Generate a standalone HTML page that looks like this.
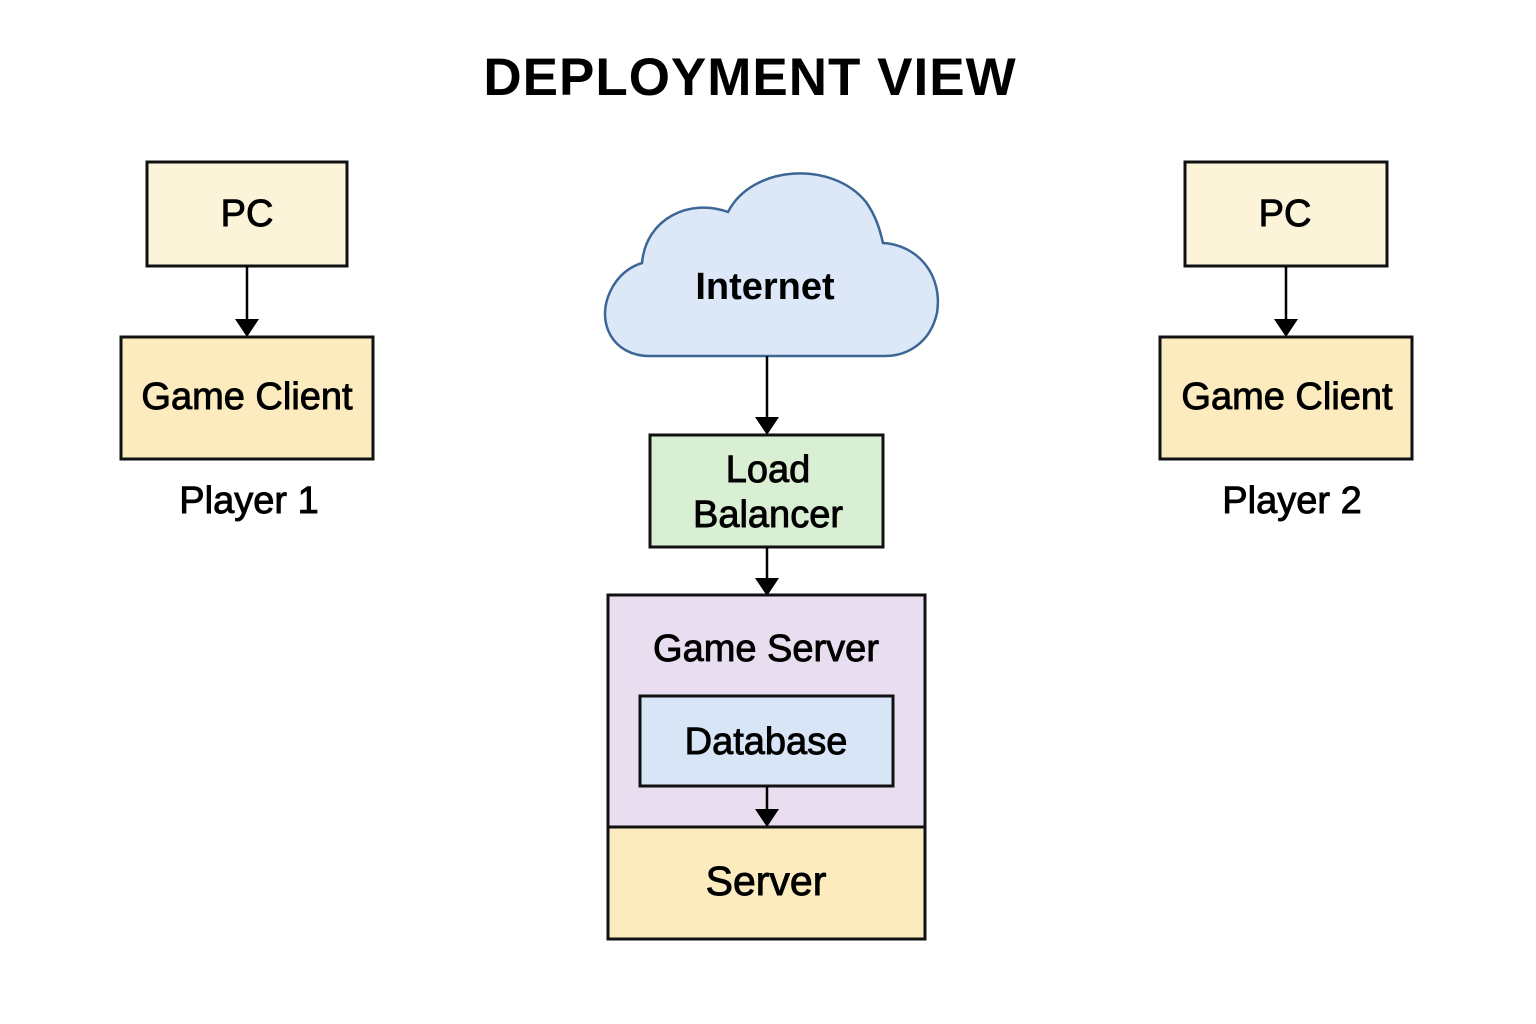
<!DOCTYPE html>
<html><head><meta charset="utf-8"><style>
html,body{margin:0;padding:0;background:#fff;}
svg{display:block;}
text{font-family:"Liberation Sans",sans-serif;fill:#000;}
.l{stroke:#000;stroke-width:0.9;}
</style></head><body>
<svg width="1536" height="1024" viewBox="0 0 1536 1024" xmlns="http://www.w3.org/2000/svg">
<text x="750" y="95" text-anchor="middle" font-size="53" font-weight="bold" letter-spacing="1">DEPLOYMENT VIEW</text>

<!-- Left -->
<rect x="147" y="162" width="200" height="104" fill="#fbf4d9" stroke="#111" stroke-width="3"/>
<text class="l" x="247" y="226" text-anchor="middle" font-size="38">PC</text>
<line x1="247" y1="266" x2="247" y2="322" stroke="#000" stroke-width="2.5"/>
<path d="M235,319 L259,319 L247,337 Z" fill="#000"/>
<rect x="121" y="337" width="252" height="122" fill="#fbebbf" stroke="#111" stroke-width="3"/>
<text class="l" x="247" y="409" text-anchor="middle" font-size="38">Game Client</text>
<text class="l" x="249" y="513" text-anchor="middle" font-size="38">Player 1</text>

<!-- Right -->
<rect x="1185" y="162" width="202" height="104" fill="#fbf4d9" stroke="#111" stroke-width="3"/>
<text class="l" x="1285" y="226" text-anchor="middle" font-size="38">PC</text>
<line x1="1286" y1="266" x2="1286" y2="322" stroke="#000" stroke-width="2.5"/>
<path d="M1274,319 L1298,319 L1286,337 Z" fill="#000"/>
<rect x="1160" y="337" width="252" height="122" fill="#fbebbf" stroke="#111" stroke-width="3"/>
<text class="l" x="1287" y="409" text-anchor="middle" font-size="38">Game Client</text>
<text class="l" x="1292" y="513" text-anchor="middle" font-size="38">Player 2</text>

<!-- Cloud -->
<path d="M650 356 C612 356 596 322 610 292 C618 274 632 266 642 263 C646 218 690 198 728 212 C752 165 832 160 866 202 C876 216 880 230 883 243 C918 245 943 275 937 313 C930 344 906 356 885 356 Z" fill="#dce8f7" stroke="#3c6696" stroke-width="2.5"/>
<text x="765" y="299" text-anchor="middle" font-size="38" font-weight="bold">Internet</text>
<line x1="767" y1="356" x2="767" y2="420" stroke="#000" stroke-width="2.5"/>
<path d="M755,417 L779,417 L767,435 Z" fill="#000"/>

<!-- Load balancer -->
<rect x="650" y="435" width="233" height="112" fill="#d8efd3" stroke="#111" stroke-width="3"/>
<text class="l" x="768" y="482" text-anchor="middle" font-size="38">Load</text>
<text class="l" x="768" y="527" text-anchor="middle" font-size="38">Balancer</text>
<line x1="767" y1="547" x2="767" y2="580" stroke="#000" stroke-width="2.5"/>
<path d="M755,578 L779,578 L767,596 Z" fill="#000"/>

<!-- Game server -->
<rect x="608" y="595" width="317" height="232" fill="#e8def0" stroke="#111" stroke-width="3"/>
<text class="l" x="766" y="661" text-anchor="middle" font-size="38">Game Server</text>
<rect x="640" y="696" width="253" height="90" fill="#d8e5f6" stroke="#111" stroke-width="3"/>
<text class="l" x="766" y="754" text-anchor="middle" font-size="38">Database</text>
<line x1="767" y1="786" x2="767" y2="812" stroke="#000" stroke-width="2.5"/>
<path d="M755,809 L779,809 L767,827 Z" fill="#000"/>
<rect x="608" y="827" width="317" height="112" fill="#fbebbf" stroke="#111" stroke-width="3"/>
<text class="l" x="766" y="895" text-anchor="middle" font-size="41">Server</text>
</svg>
</body></html>
